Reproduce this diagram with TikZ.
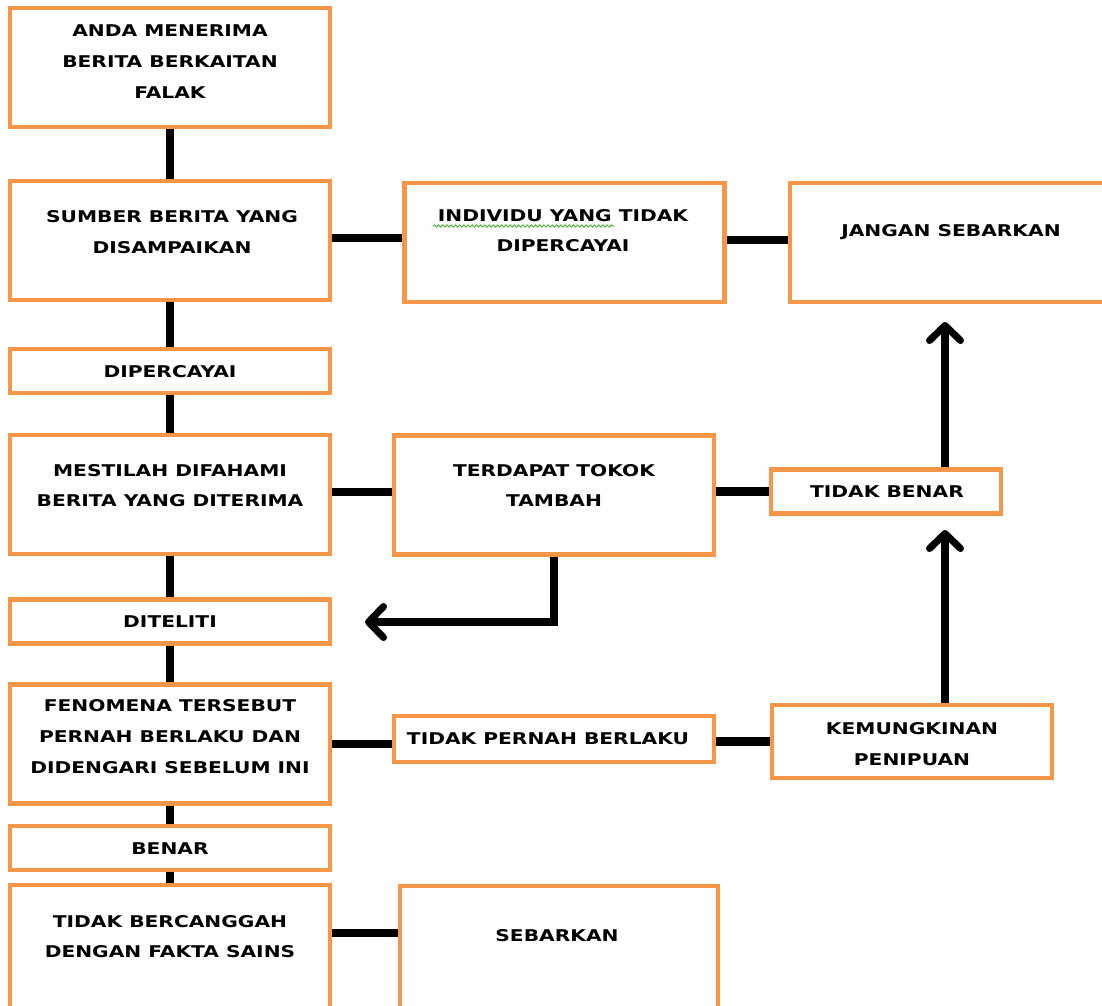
\documentclass[tikz,border=0pt]{standalone}
\usepackage{fontspec}
\usepackage{tikz}
\usetikzlibrary{arrows.meta,decorations.pathmorphing}
\newfontfamily\boxfont{DejaVu Sans}[FakeStretch=1.25]
\definecolor{boxorange}{RGB}{247,150,70}
\definecolor{spellgreen}{RGB}{90,180,70}
\tikzset{
	box/.style={draw=boxorange, line width=2.6pt, fill=white, minimum width=6.4cm, minimum height=2.38cm, inner sep=0pt},
	slim/.style={box, minimum height=0.88cm},
	txt/.style={align=center, inner sep=0pt, font=\boxfont\bfseries\fontsize{9.2}{17.5}\selectfont},
	link/.style={line width=4.6pt},
	arr/.style={line width=4pt, -{Straight Barb[length=0.3cm,width=0.62cm,round]}}
}

\begin{document}
\begin{tikzpicture}[x=0.02cm,y=-0.02cm]
	\useasboundingbox (0,0) rectangle (1102,1005);
	\clip (0,0) rectangle (1102,1005);
	% boxes
	\node[box] (A) at (170,67.5) {};
	\node[box] (B) at (170,240.5) {};
	\node[box] (C) at (564.5,242.5) {};
	\node[box, minimum width=6.6cm] (D) at (955,242.5) {};
	\node[slim] (E) at (170,371) {};
	\node[box] (F) at (170,494.5) {};
	\node[box] (G) at (554,495) {};
	\node[slim, minimum width=4.6cm] (H) at (886,491.5) {};
	\node[slim] (I) at (170,621.5) {};
	\node[box] (J) at (170,744) {};
	\node[slim, minimum height=0.92cm] (K) at (554,739) {};
	\node[slim, minimum width=5.6cm, minimum height=1.46cm] (L) at (912,741.5) {};
	\node[slim] (M) at (170,848) {};
	\node[box, minimum height=2.6cm] (N) at (170,950) {};
	\node[box, minimum width=6.36cm, minimum height=2.6cm] (O) at (559,951) {};
	% texts
	\draw (170,61.5) node[txt] (tA) {ANDA MENERIMA\\BERITA BERKAITAN\\FALAK};
	\draw (172,232) node[txt] (tB) {SUMBER BERITA YANG\\DISAMPAIKAN};
	\draw (563,230.5) node[txt] (tC) {INDIVIDU YANG TIDAK\\DIPERCAYAI};
	\draw (951,232) node[txt] (tD) {JANGAN SEBARKAN};
	\draw (170,372) node[txt] (tE) {DIPERCAYAI};
	\draw (170,485.5) node[txt] (tF) {MESTILAH DIFAHAMI\\BERITA YANG DITERIMA};
	\draw (554,485.5) node[txt] (tG) {TERDAPAT TOKOK\\TAMBAH};
	\draw (887,492) node[txt] (tH) {TIDAK BENAR};
	\draw (170,622) node[txt] (tI) {DITELITI};
	\draw (170,736.5) node[txt] (tJ) {FENOMENA TERSEBUT\\PERNAH BERLAKU DAN\\DIDENGARI SEBELUM INI};
	\draw (548,739) node[txt] (tK) {TIDAK PERNAH BERLAKU};
	\draw (912,744) node[txt] (tL) {KEMUNGKINAN\\PENIPUAN};
	\draw (170,849) node[txt] (tM) {BENAR};
	\draw (170,936.5) node[txt] (tN) {TIDAK BERCANGGAH\\DENGAN FAKTA SAINS};
	\draw (557,936) node[txt] (tO) {SEBARKAN};
	\draw[spellgreen, line width=0.6pt, decorate, decoration={snake, amplitude=0.6pt, segment length=2.4pt}] (433,226) -- (614,226);
	% connectors
	\draw[link] (A) -- (B);
	\draw[link] (B) -- (E);
	\draw[link] (E) -- (F);
	\draw[link] (F) -- (I);
	\draw[link] (I) -- (J);
	\draw[link] (J) -- (M);
	\draw[link] (M) -- (N);
	\draw[link] ([yshift=0.05cm]B.east) -- ([yshift=0.05cm]B.east -| C.west);
	\draw[link] ([yshift=0.05cm]C.east) -- ([yshift=0.05cm]C.east -| D.west);
	\draw[link] ([yshift=0.05cm]F.east) -- ([yshift=0.05cm]F.east -| G.west);
	\draw[link] (G.east |- H.west) -- (H.west);
	\draw[link] (J.east) -- (J.east -| K.west);
	\draw[link] (K.east |- L.west) -- (L.west);
	\draw[link] ([yshift=0.34cm]N.east) -- ([yshift=0.34cm]N.east -| O.west);
	% arrows
	\coordinate (backI) at (365,622);
	\coordinate (upH) at (945,530);
	\coordinate (upD) at (945,322);
	\draw[arr] (G.south) |- (backI);
	\draw[arr] (L.north -| upH) -- (upH);
	\draw[arr] (H.north -| upD) -- (upD);
\end{tikzpicture}
\end{document}
